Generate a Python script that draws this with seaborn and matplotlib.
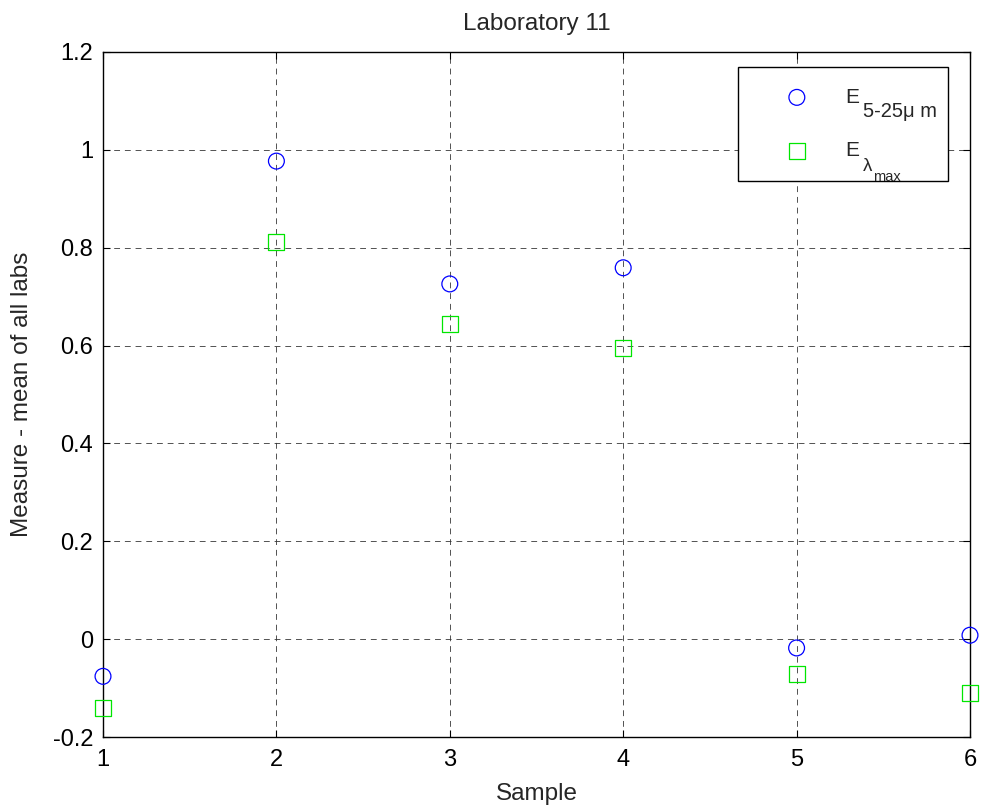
import matplotlib
matplotlib.use("Agg")
import matplotlib.pyplot as plt
import seaborn as sns
import pandas as pd

samples = [1, 2, 3, 4, 5, 6]
e_5_25 = [-0.076, 0.977, 0.726, 0.759, -0.018, 0.008]
e_lmax = [-0.141, 0.812, 0.644, 0.595, -0.072, -0.110]
yticks = [-0.2, 0, 0.2, 0.4, 0.6, 0.8, 1, 1.2]
ytick_labels = ["-0.2", "0", "0.2", "0.4", "0.6", "0.8", "1", "1.2"]

sns.set_style("white")
plt.rcParams['font.family'] = ['Liberation Sans', 'DejaVu Sans']

W, H = 982, 810
fig = plt.figure(figsize=(W / 100, H / 100), dpi=100)
ax = fig.add_axes([103 / W, 1 - 737 / H, (970 - 103) / W, (737 - 52) / H])

df = pd.DataFrame({"Sample": samples, "E1": e_5_25, "E2": e_lmax})
sns.scatterplot(data=df, x="Sample", y="E1", ax=ax, marker="o", s=130,
                facecolors="none", edgecolor="#0000ff", linewidth=0.9,
                label="E", zorder=5, clip_on=False)
sns.scatterplot(data=df, x="Sample", y="E2", ax=ax, marker="s", s=130,
                facecolors="none", edgecolor="#00e600", linewidth=0.9,
                label="E", zorder=5, clip_on=False)

ax.set_xlim(1, 6)
ax.set_ylim(-0.2, 1.2)
ax.set_xticks(samples)
ax.set_yticks(yticks)
ax.set_yticklabels(ytick_labels)
ax.tick_params(direction="in", length=5, labelsize=17, colors="black",
               top=True, right=True, bottom=True, left=True)
ax.tick_params(axis="y", pad=7)
ax.tick_params(axis="x", pad=9)
ax.grid(True, color="#333333", linestyle=(0, (6, 5)), linewidth=0.7, alpha=0.85)
for s in ax.spines.values():
    s.set_color("black")
    s.set_linewidth(1.0)
ax.set_xlabel("Sample", fontsize=17.5, labelpad=8)
ax.set_ylabel("Measure - mean of all labs", fontsize=17.5, labelpad=14)
ax.set_title("Laboratory 11", fontsize=17.5, pad=16)

# legend box: pixel 738..948 x, top 67
x0 = (738 - 103) / 867
x1 = (948 - 103) / 867
ytop = (737 - 67) / 685
leg = ax.legend(loc="upper left", bbox_to_anchor=(x0, ytop - 0.2, x1 - x0, 0.2),
                mode="expand", borderaxespad=0, fontsize=15, frameon=True,
                fancybox=False, edgecolor="black", framealpha=1,
                borderpad=1.0, labelspacing=1.65, handlelength=3.65,
                handletextpad=0.5)
leg.get_frame().set_linewidth(1.0)

fig.canvas.draw()
texts = leg.get_texts()
inv = fig.transFigure.inverted()
# first label subscript
bb = texts[0].get_window_extent()
xs, ys = inv.transform((bb.x1 + 4, bb.y0 + 2))
fig.text(xs, ys - 12 / H, "5-25\u03bc m", fontsize=14.5, ha="left", va="baseline")
# second label subscript
bb = texts[1].get_window_extent()
xs, ys = inv.transform((bb.x1 + 4, bb.y0 + 2))
t = fig.text(xs, ys - 13 / H, "\u03bb", fontsize=13.5, ha="left", va="baseline")
fig.canvas.draw()
tb = t.get_window_extent()
xm, _ = inv.transform((tb.x1, tb.y0))
fig.text(xm, ys - 23 / H, "max", fontsize=10.5, ha="left", va="baseline")

fig.savefig("out.png", dpi=100)
